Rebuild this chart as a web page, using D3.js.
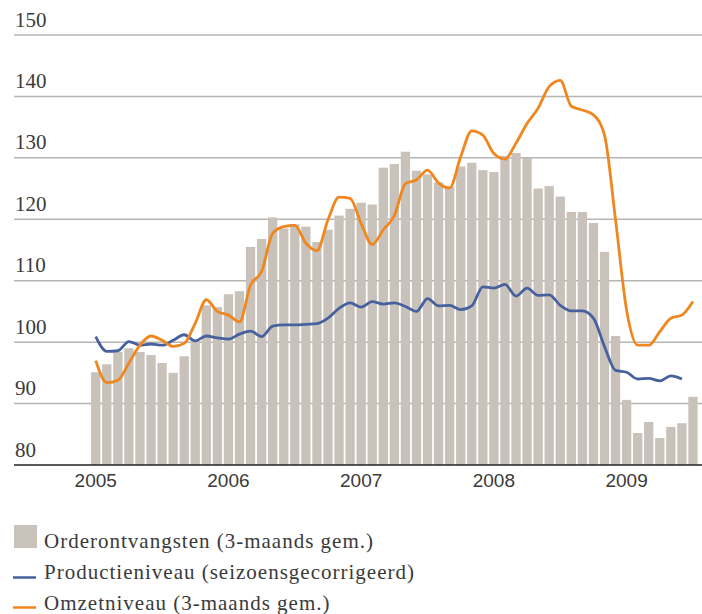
<!DOCTYPE html>
<html>
<head>
<meta charset="utf-8">
<script src="https://cdn.jsdelivr.net/npm/d3@7"></script>
<style>
	html, body { margin: 0; padding: 0; background: #fff; }
	svg { display: block; }
	.ylab { font-family: "Liberation Serif", serif; font-size: 21px; fill: #3a3a3a; }
	.xlab { font-family: "Liberation Sans", Arial, sans-serif; font-size: 19px; fill: #3a3a3a; }
	.leg { font-family: "Liberation Serif", serif; font-size: 21px; fill: #3a3a3a; letter-spacing: 1px; }
</style>
</head>
<body>
<svg id="chart"></svg>
<script>
// Order intake, production and turnover levels, monthly 2005 - mid 2009
var months = [
	'2005-01','2005-02','2005-03','2005-04','2005-05','2005-06','2005-07','2005-08','2005-09','2005-10','2005-11','2005-12',
	'2006-01','2006-02','2006-03','2006-04','2006-05','2006-06','2006-07','2006-08','2006-09','2006-10','2006-11','2006-12',
	'2007-01','2007-02','2007-03','2007-04','2007-05','2007-06','2007-07','2007-08','2007-09','2007-10','2007-11','2007-12',
	'2008-01','2008-02','2008-03','2008-04','2008-05','2008-06','2008-07','2008-08','2008-09','2008-10','2008-11','2008-12',
	'2009-01','2009-02','2009-03','2009-04','2009-05','2009-06','2009-07'
];

var orders = [
	95.1, 96.4, 98.4, 99.0, 98.4, 97.9, 96.6, 95.0, 97.7, 100.3, 106.0, 105.7,
	107.8, 108.3, 115.5, 116.8, 120.3, 118.5, 119.2, 118.8, 116.3, 118.3, 120.6, 121.7,
	122.7, 122.4, 128.4, 129.0, 131.0, 127.9, 127.3, 126.0, 125.3, 128.6, 129.2, 128.0,
	127.7, 130.3, 130.8, 130.0, 125.0, 125.4, 123.7, 121.2, 121.2, 119.4, 114.7, 101.0,
	90.6, 85.2, 87.0, 84.4, 86.2, 86.8, 91.1
];

var production = [
	100.9, 98.5, 98.6, 100.1, 99.5, 99.7, 99.5, 100.3, 101.2, 100.2, 101.0, 100.7,
	100.5, 101.3, 101.8, 100.9, 102.6, 102.8, 102.8, 102.9, 103.0, 103.9, 105.5, 106.4,
	105.7, 106.6, 106.2, 106.4, 105.8, 105.0, 107.1, 105.9, 106.0, 105.3, 105.9, 109.0,
	108.8, 109.4, 107.5, 108.8, 107.6, 107.7, 106.0, 105.1, 105.1, 103.9, 99.3, 95.4,
	95.1, 94.0, 94.1, 93.7, 94.5, 94.0
];

var turnover = [
	97.0, 93.4, 93.8, 96.6, 99.5, 101.0, 100.3, 99.3, 99.8, 103.1, 106.9, 105.0,
	104.4, 103.3, 109.3, 111.5, 117.7, 118.8, 119.0, 116.1, 114.9, 119.9, 123.6, 123.4,
	119.3, 115.9, 118.3, 120.6, 125.8, 126.4, 128.0, 125.9, 125.1, 130.2, 134.4, 133.7,
	130.7, 129.8, 132.4, 135.6, 138.1, 141.6, 142.6, 138.4, 137.8, 137.0, 133.7, 119.9,
	105.2, 99.5, 99.5, 101.7, 103.9, 104.4, 106.6
];

var yearTicks = ['2005', '2006', '2007', '2008', '2009'];
var yTicks = [80, 90, 100, 110, 120, 130, 140, 150];

var legendLabels = [
	'Orderontvangsten (3-maands gem.)',
	'Productieniveau (seizoensgecorrigeerd)',
	'Omzetniveau (3-maands gem.)'
];

var colBar = '#c8c2bb', colBlue = '#46619e', colOrange = '#f0861e';

var W = 702, H = 614;
var svg = d3.select('#chart').attr('width', W).attr('height', H);

var x = d3.scaleBand()
	.domain(months)
	.range([90.2, 698.5])
	.paddingInner(0.16)
	.paddingOuter(0.08);

var y = d3.scaleLinear()
	.domain([80, 150])
	.range([465, 35]);

var cx = function(i) { return x(months[i]) + x.bandwidth() / 2; };

// gridlines and labels
var grid = svg.append('g');
grid.selectAll('line')
	.data(yTicks.filter(function(d) { return d > 80; }))
	.join('line')
		.attr('x1', 14).attr('x2', W)
		.attr('y1', function(d) { return y(d); })
		.attr('y2', function(d) { return y(d); })
		.attr('stroke', '#b5b5b5')
		.attr('stroke-width', 1.5);

svg.append('g').selectAll('text')
	.data(yTicks)
	.join('text')
		.attr('class', 'ylab')
		.attr('x', 15)
		.attr('y', function(d) { return y(d) - 8.5; })
		.text(function(d) { return d; });

// bars
svg.append('g').selectAll('rect')
	.data(orders)
	.join('rect')
		.attr('x', function(d, i) { return x(months[i]); })
		.attr('width', x.bandwidth())
		.attr('y', function(d) { return y(d); })
		.attr('height', function(d) { return y(80) - y(d); })
		.attr('fill', colBar);

// baseline
svg.append('line')
	.attr('x1', 14).attr('x2', W)
	.attr('y1', y(80)).attr('y2', y(80))
	.attr('stroke', '#222')
	.attr('stroke-width', 1.5);

// x labels
svg.append('g').selectAll('text')
	.data(yearTicks)
	.join('text')
		.attr('class', 'xlab')
		.attr('x', function(d) { return x(d + '-01') + x.bandwidth() / 2; })
		.attr('y', 487)
		.attr('text-anchor', 'middle')
		.text(function(d) { return d; });

var line = d3.line()
	.x(function(d, i) { return cx(i); })
	.y(function(d) { return y(d); })
	.curve(d3.curveMonotoneX);

svg.append('path')
	.datum(production)
	.attr('d', line)
	.attr('fill', 'none')
	.attr('stroke', colBlue)
	.attr('stroke-width', 2.8)
	.attr('stroke-linejoin', 'round');

svg.append('path')
	.datum(turnover)
	.attr('d', line)
	.attr('fill', 'none')
	.attr('stroke', colOrange)
	.attr('stroke-width', 2.8)
	.attr('stroke-linejoin', 'round');

// legend
var leg = svg.append('g');
leg.append('rect')
	.attr('x', 14).attr('y', 525)
	.attr('width', 23).attr('height', 23)
	.attr('fill', colBar);
leg.append('line')
	.attr('x1', 13).attr('x2', 36)
	.attr('y1', 577.5).attr('y2', 577.5)
	.attr('stroke', colBlue).attr('stroke-width', 2.5);
leg.append('line')
	.attr('x1', 13).attr('x2', 36)
	.attr('y1', 607.5).attr('y2', 607.5)
	.attr('stroke', colOrange).attr('stroke-width', 2.5);

leg.selectAll('text')
	.data(legendLabels)
	.join('text')
		.attr('class', 'leg')
		.attr('x', 44)
		.attr('y', function(d, i) { return 548 + i * 31; })
		.text(function(d) { return d; });
</script>
</body>
</html>
